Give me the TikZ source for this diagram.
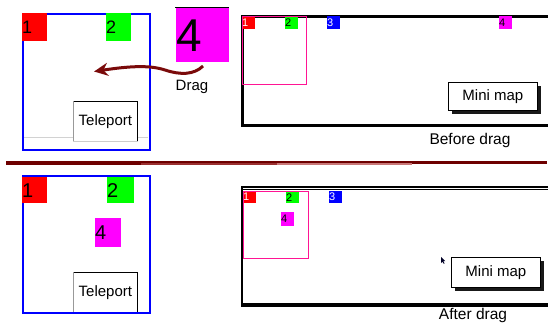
\documentclass[tikz,border=0pt]{standalone}
\usepackage{fontspec}
\setmainfont{Liberation Sans}
\usetikzlibrary{arrows.meta,shadows}
\definecolor{dragred}{HTML}{7A0A0A}
\definecolor{sepdark}{HTML}{6E0000}
\definecolor{sepmid}{HTML}{9A3030}
\definecolor{seplight}{HTML}{C87878}
\definecolor{vpink}{HTML}{FF1493}
\definecolor{panelblue}{HTML}{0000FF}
\definecolor{magbox}{HTML}{FF00FF}
\tikzset{
  panel/.style={draw=panelblue, line width=2pt},
  mapframe/.style={draw=black, line width=2.6pt},
  bigdigit/.style={inner sep=0pt, anchor=north west, align=left, font=\fontsize{18}{18}\selectfont},
  smalldigit/.style={inner sep=0pt, anchor=north west, minimum width=13pt, minimum height=13pt, text width=13pt, align=left, font=\fontsize{11}{11}\selectfont},
  viewport/.style={draw=vpink, line width=1.1pt},
  btn/.style={draw=black, line width=0.7pt, fill=white, inner sep=0pt, font=\fontsize{15}{15}\selectfont},
  mapbtn/.style={btn, drop shadow={shadow xshift=4pt, shadow yshift=-4pt, fill=black, opacity=0.9}},
  caption/.style={inner sep=0pt, font=\fontsize{15.5}{15.5}\selectfont},
}
\begin{document}
\begin{tikzpicture}[x=1pt,y=-1pt]
\useasboundingbox[fill=white] (0,0) rectangle (548,322);

% ---------- top left panel ----------
\draw[gray!35, line width=1pt] (22,137) -- (148,137);
\node (tele1) [btn, anchor=north west, minimum width=64pt, minimum height=40pt, draw=none] at (73,101) {Teleport};
\draw[black, line width=0.7pt] (tele1.north west) -- (tele1.north east) -- (tele1.south east);
\draw[gray!80, line width=1pt] (tele1.north west) -- (tele1.south west);
\draw[gray!40, line width=1pt] (tele1.south west) -- (tele1.south east);
\node (p1) [panel, anchor=north west, minimum width=127pt, minimum height=136pt, inner sep=0pt] at (22,13) {};
\node (a1) [bigdigit, fill=red, minimum width=25pt, minimum height=28pt, text width=25pt] at (22,13) {1};
\node (a2) [bigdigit, fill=green, minimum width=25pt, minimum height=28pt, text width=25pt] at (106,13) {2};

% big 4
\draw[black, line width=1pt] (175,7.5) -- (229,7.5);
\node (big4) [inner sep=0pt, anchor=north west, fill=magbox, minimum width=53pt, minimum height=54pt, text width=53pt, align=left, font=\fontsize{46}{46}\selectfont] at (176,8) {4};

% drag arrow
\coordinate (dstart) at (203,66);
\coordinate (dmid) at (165,70);
\coordinate (dend) at (94,71.5);
\draw[dragred, line width=3pt, -{Stealth[length=14pt,width=13pt]}]
  (dstart) .. controls (194,75) and (180,75) .. (dmid)
  .. controls (150,65) and (130,66) .. (dend);
\node (drag) [caption, font=\fontsize{15}{15}\selectfont] at (192,87) {Drag};

% ---------- top right panel ----------
\node (m1) [mapframe, anchor=north west, minimum width=312pt, minimum height=109pt, inner sep=0pt] at (241,15) {};
\node (s1) [smalldigit, fill=red, text=white] at (242,16) {1};
\node (s2) [smalldigit, fill=green] at (285,16) {2};
\node (s3) [smalldigit, fill=blue, text=white] at (327,16) {3};
\node (s4) [smalldigit, fill=magbox] at (499,16) {4};
\node (v1) [viewport, anchor=north west, minimum width=64pt, minimum height=68pt, inner sep=0pt] at (242,16) {};
\node (mm1) [mapbtn, anchor=north west, minimum width=89pt, minimum height=28pt] at (448,82) {Mini map};
\node (cap1) [caption] at (470,140) {Before drag};

% ---------- separator ----------
\coordinate (sa) at (6,162.6);
\coordinate (sb) at (141,162.6);
\coordinate (sc) at (277,162.6);
\coordinate (sd) at (412,162.6);
\coordinate (se) at (547,162.6);
\draw[sepdark, line width=4.2pt] (sa) -- (sb);
\draw[sepdark, line width=2.1pt] ([yshift=1.05pt]sb) -- ([yshift=1.05pt]sc);
\draw[sepmid, line width=2.1pt] ([yshift=-1.05pt]sb) -- ([yshift=-1.05pt]sc);
\draw[sepdark, line width=2.1pt] ([yshift=1.05pt]sc) -- ([yshift=1.05pt]sd);
\draw[seplight, line width=2.1pt] ([yshift=-1.05pt]sc) -- ([yshift=-1.05pt]sd);
\draw[sepdark, line width=3pt] ([yshift=0.6pt]sd) -- ([yshift=0.6pt]se);

% ---------- bottom left panel ----------
\node (tele2) [btn, anchor=north west, minimum width=64pt, minimum height=40pt, draw=none] at (73,272) {Teleport};
\draw[black, line width=0.7pt] (tele2.north west) -- (tele2.north east) -- (tele2.south east);
\draw[gray!80, line width=1pt] (tele2.north west) -- (tele2.south west);
\node (p2) [panel, anchor=north west, minimum width=127pt, minimum height=137pt, inner sep=0pt] at (22,175) {};
\node (b1) [bigdigit, fill=red, minimum width=25pt, minimum height=26pt, text width=25pt, font=\fontsize{20}{20}\selectfont] at (22,177) {1};
\node (b2) [bigdigit, fill=green, minimum width=27pt, minimum height=26pt, text width=27pt, font=\fontsize{20}{20}\selectfont] at (107,177) {2};
\node (b4) [bigdigit, fill=magbox, minimum width=26pt, minimum height=29pt, text width=26pt, font=\fontsize{20}{20}\selectfont] at (95,218) {4};

% ---------- bottom right panel ----------
\node (m2) [mapframe, anchor=north west, minimum width=312pt, minimum height=117pt, inner sep=0pt, line width=2pt] at (241,186) {};
\draw[black, line width=3.5pt] (m2.south west) -- (m2.south east);
\draw[black, line width=0.7pt] ([yshift=-3.5pt]m2.north west) -- ([yshift=-3.5pt]m2.north east);
\node (t1) [smalldigit, fill=red, text=white, minimum height=12pt] at (243,191) {1};
\node (t2) [smalldigit, fill=green, minimum height=12pt] at (286,191) {2};
\node (t3) [smalldigit, fill=blue, text=white, minimum height=12pt] at (329,191) {3};
\node (t4) [smalldigit, fill=magbox, minimum height=14pt] at (281,212) {4};
\node (v2) [viewport, anchor=north west, minimum width=65pt, minimum height=67pt, inner sep=0pt] at (243,191) {};
\node (mm2) [mapbtn, anchor=north west, minimum width=89pt, minimum height=30pt] at (451,257) {Mini map};
\coordinate (cur) at (441,257);
\fill[black!85!blue] (cur) -- ++(0,6) -- ++(1.4,-1.4) -- ++(1.4,2.2) -- ++(0.8,-0.4) -- ++(-1.3,-2.2) -- ++(2,0) -- cycle;
\node (cap2) [caption] at (473,315) {After drag};
\end{tikzpicture}
\end{document}
